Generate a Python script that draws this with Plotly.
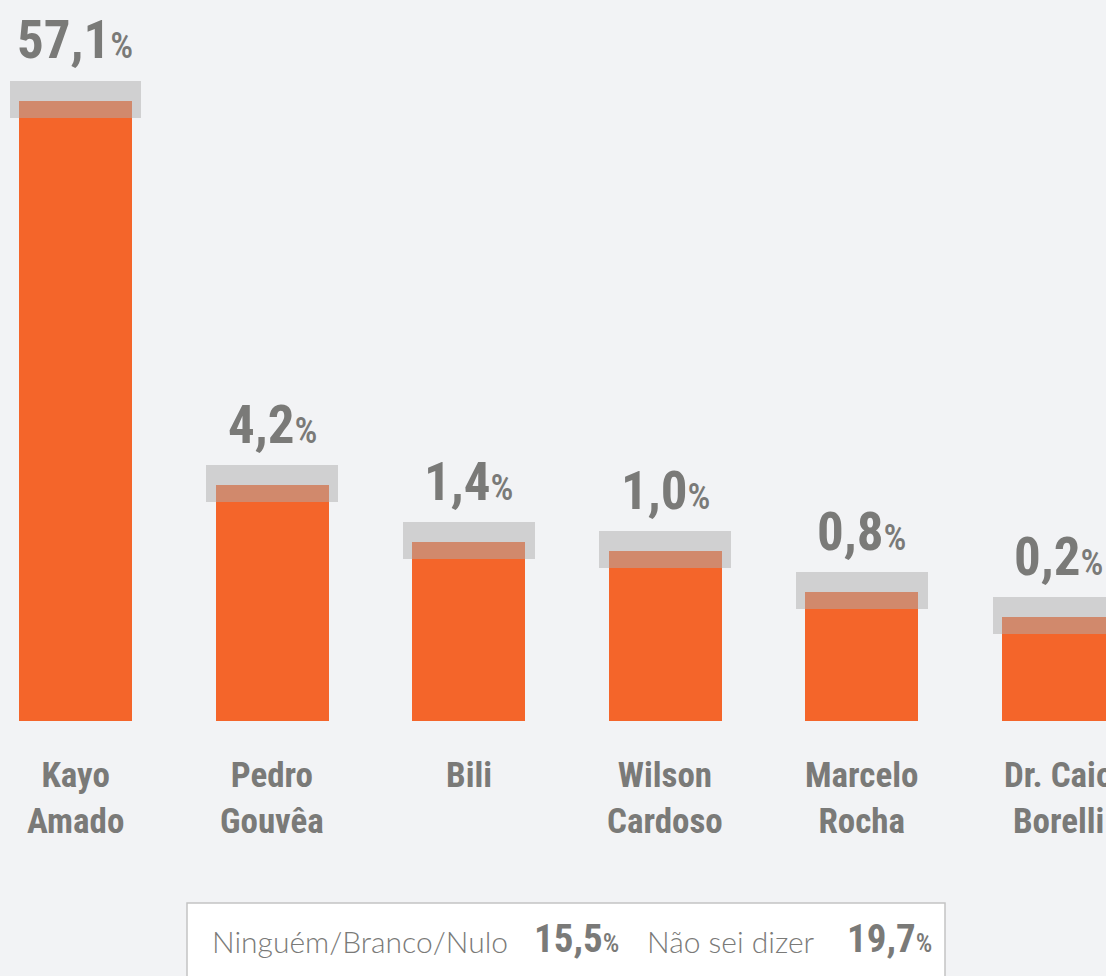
import plotly.graph_objects as go

# ---- data ----
candidates = ["Kayo<br>Amado", "Pedro<br>Gouvêa", "Bili", "Wilson<br>Cardoso",
              "Marcelo<br>Rocha", "Dr. Caio<br>Borelli"]
percent_labels = ["57,1", "4,2", "1,4", "1,0", "0,8", "0,2"]
# displayed bar heights (the graphic is not drawn to scale), in pixels above the baseline
bar_heights = [620, 236, 179, 170, 129, 104]
other_labels = ["Ninguém/Branco/Nulo", "Não sei dizer"]
other_values = ["15,5", "19,7"]

BG = "#f2f3f5"
ORANGE = "#f4652a"
GREY_TXT = "#7a7a78"
COND = "Roboto Condensed, Open Sans, sans-serif"
LIGHT = "Lato, Open Sans, sans-serif"

W, H = 1106, 976
BASE_PX = 720.5  # baseline position in pixels from the top

xs = list(range(len(candidates)))

fig = go.Figure()
fig.add_trace(go.Bar(x=xs, y=bar_heights, width=0.575, marker=dict(color=ORANGE, line=dict(width=0)),
                     hoverinfo="skip", showlegend=False))
# grey translucent caps centred on each bar top
cap_above, cap_below = 20, 17
fig.add_trace(go.Bar(x=xs, y=[cap_above + cap_below] * len(xs),
                     base=[h - cap_below for h in bar_heights], width=0.67,
                     marker=dict(color="rgba(173,173,173,0.5)", line=dict(width=0)),
                     hoverinfo="skip", showlegend=False))

annotations = []
for x, h, lab in zip(xs, bar_heights, percent_labels):
    annotations.append(dict(x=x, y=h + cap_above, xref="x", yref="y", yanchor="bottom", xanchor="center",
                            yshift=7, showarrow=False,
                            text=f"{lab}<span style='font-size:36px;font-weight:500'>%</span>",
                            font=dict(family=COND, size=53, color=GREY_TXT, weight="bold")))
for x, name in zip(xs, candidates):
    annotations.append(dict(x=x, y=0, xref="x", yref="y", yanchor="top", xanchor="center",
                            yshift=-32, showarrow=False, text=name,
                            font=dict(family=COND, size=35, color=GREY_TXT, weight="bold")))

# bottom box with the other answers
def px(xp):
    return xp / W
def py(yp):
    return 1 - yp / H

fig.add_shape(type="rect", xref="paper", yref="paper", x0=px(187), x1=px(945), y0=py(990), y1=py(903),
              line=dict(color="#c4c4c4", width=1.5), fillcolor="white", layer="below")
text_x = [210, 645]
val_x = [532, 845]
for lab, val, tx, vx in zip(other_labels, other_values, text_x, val_x):
    annotations.append(dict(x=px(tx), y=py(961), xref="paper", yref="paper", xanchor="left", yanchor="bottom",
                            showarrow=False, text=lab,
                            font=dict(family=LIGHT, size=30, color=GREY_TXT, weight=300)))
    annotations.append(dict(x=px(vx), y=py(964), xref="paper", yref="paper", xanchor="left", yanchor="bottom",
                            showarrow=False,
                            text=f"{val}<span style='font-size:26px;font-weight:500'>%</span>",
                            font=dict(family=COND, size=39, color=GREY_TXT, weight="bold")))

fig.update_layout(
    width=W, height=H, margin=dict(l=0, r=0, t=0, b=0),
    paper_bgcolor=BG, plot_bgcolor=BG, barmode="overlay", bargap=0,
    xaxis=dict(range=[-0.384, 5.242], visible=False, fixedrange=True),
    yaxis=dict(range=[BASE_PX - H, BASE_PX], visible=False, fixedrange=True),
    annotations=annotations, showlegend=False,
)
fig.write_html("out.html", config={"displayModeBar": False},
               post_script="document.body.style.margin='0';")
